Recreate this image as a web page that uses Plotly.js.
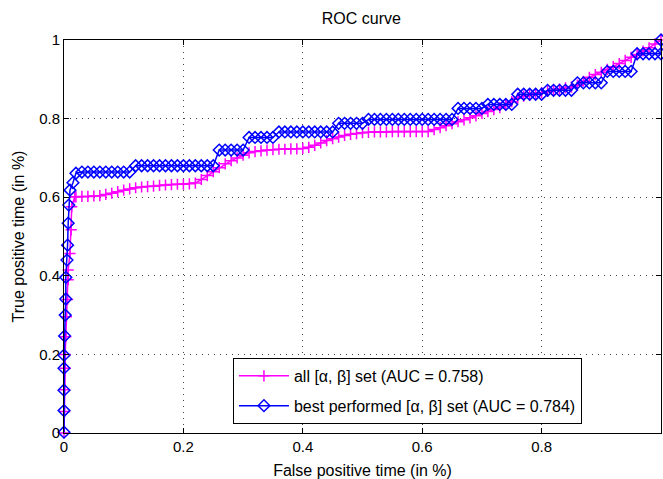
<!DOCTYPE html>
<html>
<head>
<meta charset="utf-8">
<script src="https://cdn.plot.ly/plotly-3.0.1.min.js"></script>
<style>html,body{margin:0;padding:0;background:#fff;}#chart{width:663px;height:479px;}</style>
</head>
<body>
<div id="chart"></div>
<script>
// ---- data ----
const allX = [0, 0.001, 0.001, 0.002, 0.002, 0.003, 0.004, 0.006, 0.007, 0.007, 0.010, 0.012, 0.013, 0.018,
  0.02, 0.03, 0.04, 0.05, 0.06, 0.07, 0.08, 0.09, 0.10, 0.11, 0.12, 0.13, 0.14, 0.15, 0.16, 0.17, 0.18, 0.19,
  0.20, 0.21, 0.22, 0.23, 0.24, 0.25, 0.26, 0.27, 0.28, 0.29, 0.30, 0.31, 0.32, 0.33, 0.34, 0.35, 0.36, 0.37,
  0.38, 0.39, 0.40, 0.41, 0.42, 0.43, 0.44, 0.45, 0.46, 0.47, 0.48, 0.49, 0.50, 0.51, 0.52, 0.53, 0.54, 0.55,
  0.56, 0.57, 0.58, 0.59, 0.60, 0.61, 0.62, 0.63, 0.64, 0.65, 0.66, 0.67, 0.68, 0.69, 0.70, 0.71, 0.72, 0.73,
  0.74, 0.75, 0.76, 0.77, 0.78, 0.79, 0.80, 0.81, 0.82, 0.83, 0.84, 0.85, 0.86, 0.87, 0.88, 0.89, 0.90, 0.91,
  0.92, 0.93, 0.94, 0.95, 0.96, 0.97, 0.98, 0.99, 1.00];
const allY = [0, 0.055, 0.110, 0.165, 0.200, 0.245, 0.296, 0.340, 0.390, 0.415, 0.457, 0.517, 0.576, 0.601,
  0.601, 0.602, 0.602, 0.603, 0.604, 0.607, 0.610, 0.614, 0.618, 0.621, 0.624, 0.626, 0.627, 0.628, 0.630, 0.631, 0.632, 0.633,
  0.633, 0.634, 0.636, 0.645, 0.655, 0.665, 0.675, 0.685, 0.693, 0.700, 0.707, 0.713, 0.716, 0.718, 0.720, 0.721, 0.722, 0.722,
  0.723, 0.723, 0.724, 0.727, 0.732, 0.738, 0.744, 0.749, 0.753, 0.757, 0.760, 0.762, 0.764, 0.765, 0.766, 0.766, 0.766, 0.767,
  0.767, 0.767, 0.767, 0.767, 0.767, 0.767, 0.772, 0.777, 0.782, 0.787, 0.792, 0.797, 0.802, 0.807, 0.813, 0.818, 0.823, 0.828,
  0.835, 0.843, 0.852, 0.857, 0.860, 0.863, 0.866, 0.869, 0.872, 0.875, 0.878, 0.880, 0.885, 0.895, 0.905, 0.912, 0.918, 0.925,
  0.932, 0.940, 0.948, 0.956, 0.963, 0.972, 0.980, 0.990, 1.000];

const bestX = [0, 0, 0, 0, 0, 0.001, 0.002, 0.003, 0.003, 0.005, 0.006, 0.007, 0.008, 0.010, 0.015, 0.020,
  0.03, 0.04, 0.05, 0.06, 0.07, 0.08, 0.09, 0.10, 0.11, 0.12, 0.13, 0.14, 0.15, 0.16, 0.17, 0.18, 0.19,
  0.20, 0.21, 0.22, 0.23, 0.24, 0.25, 0.26, 0.27, 0.28, 0.29, 0.30, 0.31, 0.32, 0.33, 0.34, 0.35, 0.36, 0.37,
  0.38, 0.39, 0.40, 0.41, 0.42, 0.43, 0.44, 0.45, 0.46, 0.47, 0.48, 0.49, 0.50, 0.51, 0.52, 0.53, 0.54, 0.55,
  0.56, 0.57, 0.58, 0.59, 0.60, 0.61, 0.62, 0.63, 0.64, 0.65, 0.66, 0.67, 0.68, 0.69, 0.70, 0.71, 0.72, 0.73,
  0.74, 0.75, 0.76, 0.77, 0.78, 0.79, 0.80, 0.81, 0.82, 0.83, 0.84, 0.85, 0.86, 0.87, 0.88, 0.89, 0.90, 0.91,
  0.92, 0.93, 0.94, 0.95, 0.96, 0.97, 0.98, 0.99, 1.00, 1.00];
const bestY = [0.002, 0.057, 0.109, 0.165, 0.198, 0.247, 0.300, 0.341, 0.396, 0.440, 0.478, 0.534, 0.580, 0.618, 0.637, 0.661,
  0.664, 0.664, 0.664, 0.664, 0.664, 0.664, 0.664, 0.664, 0.664, 0.680, 0.680, 0.680, 0.680, 0.680, 0.680, 0.680, 0.680,
  0.680, 0.680, 0.680, 0.680, 0.680, 0.680, 0.720, 0.720, 0.720, 0.720, 0.720, 0.752, 0.752, 0.752, 0.752, 0.752, 0.766, 0.766,
  0.766, 0.766, 0.766, 0.766, 0.766, 0.766, 0.766, 0.766, 0.788, 0.788, 0.788, 0.788, 0.788, 0.798, 0.798, 0.798, 0.798, 0.798,
  0.798, 0.798, 0.798, 0.798, 0.798, 0.798, 0.798, 0.798, 0.798, 0.798, 0.826, 0.826, 0.826, 0.826, 0.826, 0.836, 0.836, 0.836,
  0.836, 0.836, 0.862, 0.862, 0.862, 0.862, 0.862, 0.872, 0.872, 0.872, 0.872, 0.872, 0.891, 0.891, 0.891, 0.891, 0.891, 0.920,
  0.920, 0.920, 0.920, 0.920, 0.965, 0.965, 0.965, 0.965, 0.965, 1.000];

const seriesNames = ['all [α, β] set (AUC = 0.758)', 'best performed [α, β] set (AUC = 0.784)'];
const xTicks = [0, 0.2, 0.4, 0.6, 0.8, 1];
const xTickText = ['0', '0.2', '0.4', '0.6', '0.8', '1'];
const yTicks = [0, 0.2, 0.4, 0.6, 0.8, 1];
const yTickText = ['0', '0.2', '0.4', '0.6', '0.8', '1'];

const FONT = 'Liberation Sans, Arial, Helvetica, sans-serif';

const traces = [
  {
    x: allX, y: allY, name: seriesNames[0], type: 'scatter', mode: 'lines+markers',
    legendgroup: 'a', cliponaxis: false,
    line: {color: '#ff00ff', width: 1.5},
    marker: {symbol: 'cross-thin-open', size: 8, color: '#ff00ff', line: {color: '#ff00ff', width: 1.5}}
  },
  {
    x: bestX, y: bestY, name: seriesNames[1], type: 'scatter', mode: 'lines+markers',
    legendgroup: 'b', cliponaxis: false,
    line: {color: '#0000ff', width: 1.5},
    marker: {symbol: 'diamond-open', size: 9, color: '#0000ff', line: {color: '#0000ff', width: 1.5}}
  }
];

const axisCommon = {
  range: [0, 1], showline: true, linecolor: '#000', linewidth: 1, mirror: 'allticks',
  ticks: 'inside', ticklen: 5, tickcolor: '#000', tickwidth: 1,
  showgrid: true, gridcolor: '#444', gridwidth: 1, griddash: '1px,5px',
  zeroline: false, fixedrange: true,
  tickfont: {family: FONT, size: 15, color: '#000'}
};

const layout = {
  width: 663, height: 479,
  margin: {l: 64, r: 2, t: 40, b: 46},
  paper_bgcolor: '#fff', plot_bgcolor: '#fff',
  font: {family: FONT, size: 15, color: '#000'},
  title: {text: 'ROC curve', font: {family: FONT, size: 16, color: '#000'}, x: 0.545, xanchor: 'center', y: 0.962, yanchor: 'middle'},
  xaxis: Object.assign({}, axisCommon, {
    tickvals: xTicks, ticktext: xTickText,
    title: {text: 'False positive time (in %)', font: {family: FONT, size: 16, color: '#000'}, standoff: 11}
  }),
  yaxis: Object.assign({}, axisCommon, {
    tickvals: yTicks, ticktext: yTickText,
    title: {text: 'True positive time (in %)', font: {family: FONT, size: 16, color: '#000'}, standoff: 10}
  }),
  showlegend: true,
  legend: {
    x: 0.283, y: 0.023, xanchor: 'left', yanchor: 'bottom',
    bgcolor: '#fff', bordercolor: '#000', borderwidth: 1,
    font: {family: FONT, size: 16, color: '#000'},
    itemwidth: 50,
    traceorder: 'grouped', tracegroupgap: 6
  }
};

Plotly.newPlot('chart', traces, layout, {staticPlot: true, displayModeBar: false});
</script>
</body>
</html>
